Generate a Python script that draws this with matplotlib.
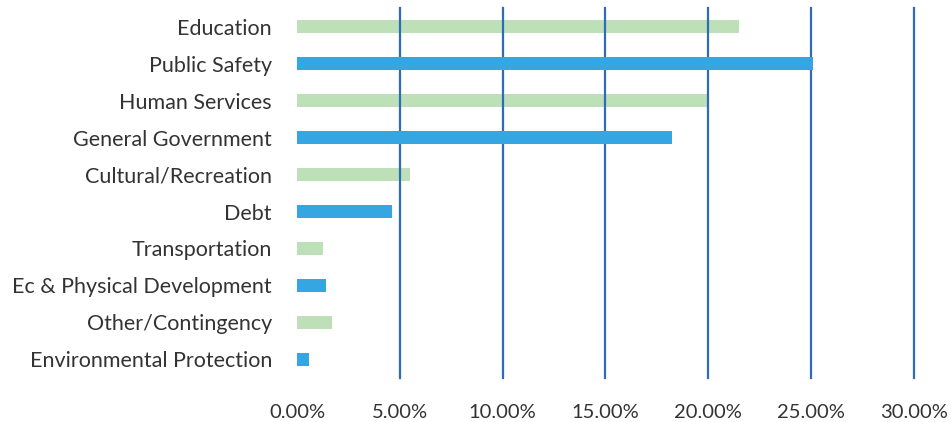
import matplotlib
matplotlib.use("Agg")
import matplotlib.pyplot as plt
from matplotlib.ticker import FuncFormatter

categories = [
    "Education", "Public Safety", "Human Services", "General Government",
    "Cultural/Recreation", "Debt", "Transportation", "Ec & Physical Development",
    "Other/Contingency", "Environmental Protection",
]
shares = [21.5, 25.1, 19.95, 18.25, 5.5, 4.6, 1.27, 1.4, 1.7, 0.58]
x_ticks = [0, 5, 10, 15, 20, 25, 30]

green = "#bde0b8"
blue = "#35a6e2"
grid_color = "#2f6cb8"

plt.rcParams["font.family"] = ["Lato", "DejaVu Sans"]

fig = plt.figure(figsize=(9.53, 4.22), dpi=100)
ax = fig.add_axes([0.3116, 0.1043, 0.6474, 0.8767])

ypos = list(range(len(categories)))
for i, (cat, val) in enumerate(zip(categories, shares)):
    color = green if i % 2 == 0 else blue
    z = 1 if i % 2 == 0 else 3
    ax.barh(i, val, height=0.36, color=color, zorder=z)

for t in x_ticks[1:]:
    ax.axvline(t, color=grid_color, lw=1.6, zorder=2, clip_on=False)

ax.set_xlim(0, 30)
ax.set_ylim(len(categories) - 0.5, -0.5)
ax.set_yticks(ypos)
ax.set_yticklabels(categories)
ax.set_xticks(x_ticks)
ax.xaxis.set_major_formatter(FuncFormatter(lambda v, p: f"{v:.2f}%"))
ax.tick_params(axis="both", length=0, colors="#333333")
ax.tick_params(axis="x", labelsize=14.5, pad=19)
ax.tick_params(axis="y", labelsize=15.5, pad=18)
for s in ax.spines.values():
    s.set_visible(False)

fig.savefig("out.png", dpi=100, facecolor="white")
